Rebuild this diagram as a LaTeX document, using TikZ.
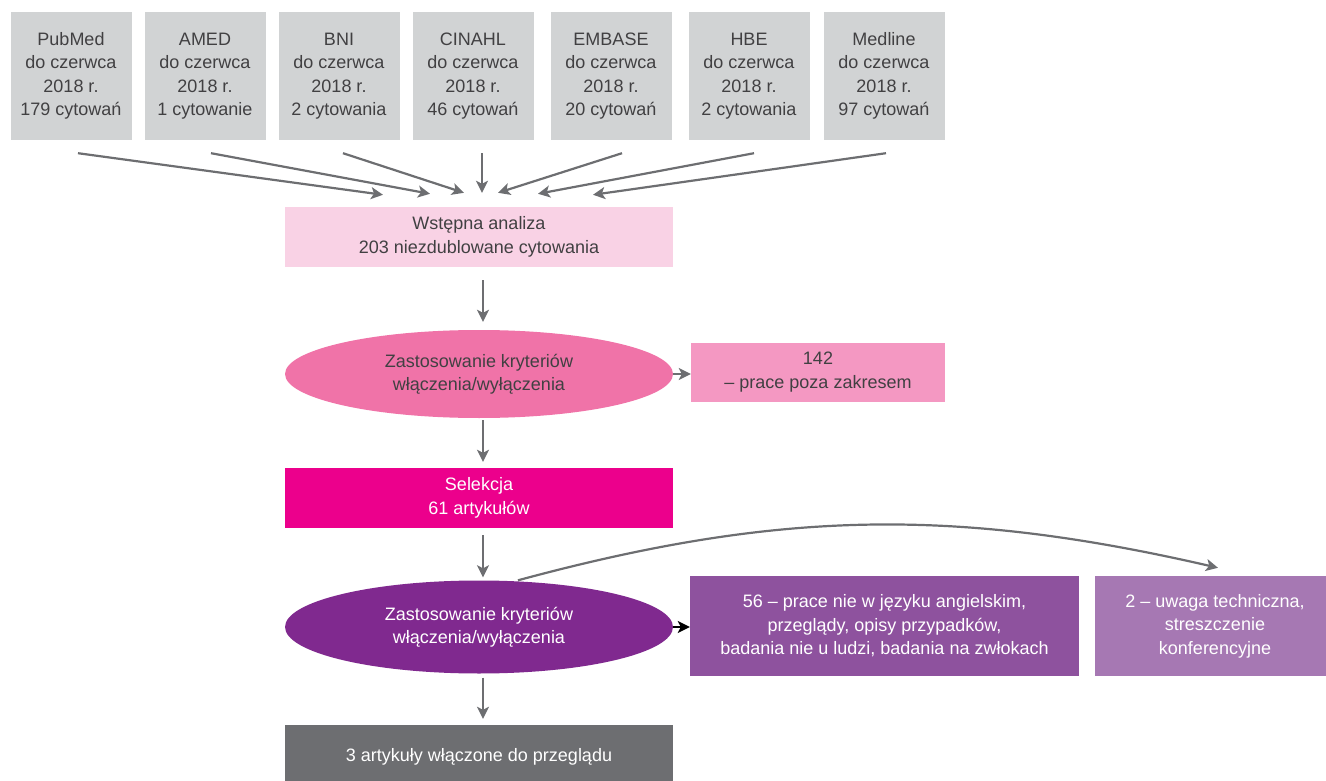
\documentclass[tikz,border=0pt]{standalone}
\usepackage{fontspec}
\setmainfont{Liberation Sans}
\usetikzlibrary{arrows.meta, shapes.geometric}

\definecolor{dbgray}{HTML}{D1D3D4}
\definecolor{txtgray}{HTML}{414042}
\definecolor{arrgray}{HTML}{6D6E71}
\definecolor{prepink}{HTML}{F9D2E5}
\definecolor{critpink}{HTML}{F073A8}
\definecolor{outpink}{HTML}{F498C2}
\definecolor{selmag}{HTML}{EC008C}
\definecolor{critpurple}{HTML}{80298F}
\definecolor{exclpurple}{HTML}{8E529E}
\definecolor{excllilac}{HTML}{A678B3}

\begin{document}
\begin{tikzpicture}[x=1pt, y=-1pt, font=\fontsize{18pt}{23.5pt}\selectfont,
    dbbox/.style={fill=dbgray, text=txtgray, minimum width=121pt,
      minimum height=128pt, align=center, inner sep=0pt},
    stagebox/.style={minimum width=388pt, minimum height=60pt, align=center,
      inner sep=0pt},
    critellipse/.style={ellipse, minimum width=388pt, minimum height=90pt,
      align=center, inner sep=0pt},
    exclbox/.style={minimum height=100pt, align=center, inner sep=0pt,
      text=white},
    flow/.style={draw=arrgray, line width=2.2pt,
      -{Stealth[length=12pt, width=12pt, inset=3pt]}} ]

    \useasboundingbox (0,0) rectangle (1326,781);

    % Databases
    \node[dbbox] (pubmed) at (71,76) {PubMed\\do czerwca\\2018 r.\\179 cytowań};
    \node[dbbox] (amed) at (205,76) {AMED\\do czerwca\\2018 r.\\1 cytowanie};
    \node[dbbox] (bni) at (339,76) {BNI\\do czerwca\\2018 r.\\2 cytowania};
    \node[dbbox] (cinahl) at (473,76) {CINAHL\\do czerwca\\2018 r.\\46 cytowań};
    \node[dbbox] (embase) at (611,76) {EMBASE\\do czerwca\\2018 r.\\20 cytowań};
    \node[dbbox] (hbe) at (749,76) {HBE\\do czerwca\\2018 r.\\2 cytowania};
    \node[dbbox] (medline) at (884,76) {Medline\\do czerwca\\2018 r.\\97 cytowań};

    % Preliminary analysis
    \node[stagebox, fill=prepink, text=txtgray] (pre) at (479,237)
    {Wstępna analiza\\203 niezdublowane cytowania};

    % Arrows from the databases
    \draw[flow] ([xshift=7pt, yshift=-13pt]pubmed.south) --
    ([xshift=-96pt, yshift=12pt]pre.north);
    \draw[flow] ([xshift=6pt, yshift=-13pt]amed.south) --
    ([xshift=-49pt, yshift=13pt]pre.north);
    \draw[flow] ([xshift=4pt, yshift=-13pt]bni.south) --
    ([xshift=-15pt, yshift=14pt]pre.north);
    \draw[flow] ([xshift=9pt, yshift=-13pt]cinahl.south) --
    ([xshift=3pt, yshift=14pt]pre.north);
    \draw[flow] ([xshift=11pt, yshift=-13pt]embase.south) --
    ([xshift=19pt, yshift=14pt]pre.north);
    \draw[flow] ([xshift=5pt, yshift=-13pt]hbe.south) --
    ([xshift=59pt, yshift=13pt]pre.north);
    \draw[flow] ([xshift=2pt, yshift=-13pt]medline.south) --
    ([xshift=114pt, yshift=12pt]pre.north);

    % First screening
    \node[critellipse, fill=critpink, text=txtgray, minimum height=88pt]
    (screen1) at (479,374) {Zastosowanie kryteriów\\włączenia/wyłączenia};
    \node[minimum width=254pt, minimum height=59pt, align=center,
    inner sep=0pt, fill=outpink, text=txtgray] (out1) at (818,372)
    {142\\– prace poza zakresem};
    \draw[flow, shorten <=13pt, shorten >=8pt] ([xshift=4pt]pre.south) --
    ([xshift=4pt]screen1.north);
    \draw[flow] (screen1.east) -- (screen1.east -| out1.west);

    % Selection
    \node[stagebox, fill=selmag, text=white] (sel) at (479,498)
    {Selekcja\\61 artykułów};
    \draw[flow, shorten <=2pt, shorten >=6pt] ([xshift=4pt]screen1.south) --
    ([xshift=4pt]sel.north);

    % Second screening
    \node[critellipse, fill=critpurple, text=white, minimum height=93pt]
    (screen2) at (479,627) {Zastosowanie kryteriów\\włączenia/wyłączenia};
    \draw[flow, shorten <=7pt, shorten >=3pt] ([xshift=4pt]sel.south) --
    ([xshift=4pt]screen2.north);

    % Exclusions
    \node[exclbox, fill=exclpurple, minimum width=389pt] (excl1) at (884.5,626)
    {56 – prace nie w języku angielskim,\\przeglądy, opisy przypadków,\\
      badania nie u ludzi, badania na zwłokach};
    \node[exclbox, fill=excllilac, minimum width=240pt] (excl2) at (1215,626)
    {2 – uwaga techniczna,\\streszczenie\\konferencyjne};
    \draw[flow, draw=black] (screen2.east) -- (screen2.east -| excl1.west);
    \draw[flow] ([xshift=39pt]screen2.north) .. controls +(259,-70) and
    +(-265,-61) .. ([xshift=3pt, yshift=8pt]excl2.north);

    % Included articles
    \node[stagebox, fill=arrgray, text=white, minimum height=64pt] (final)
    at (479,757) {3 artykuły włączone do przeglądu};
    \draw[flow, shorten <=4pt, shorten >=6pt] ([xshift=4pt]screen2.south) --
    ([xshift=4pt]final.north);

\end{tikzpicture}
\end{document}
